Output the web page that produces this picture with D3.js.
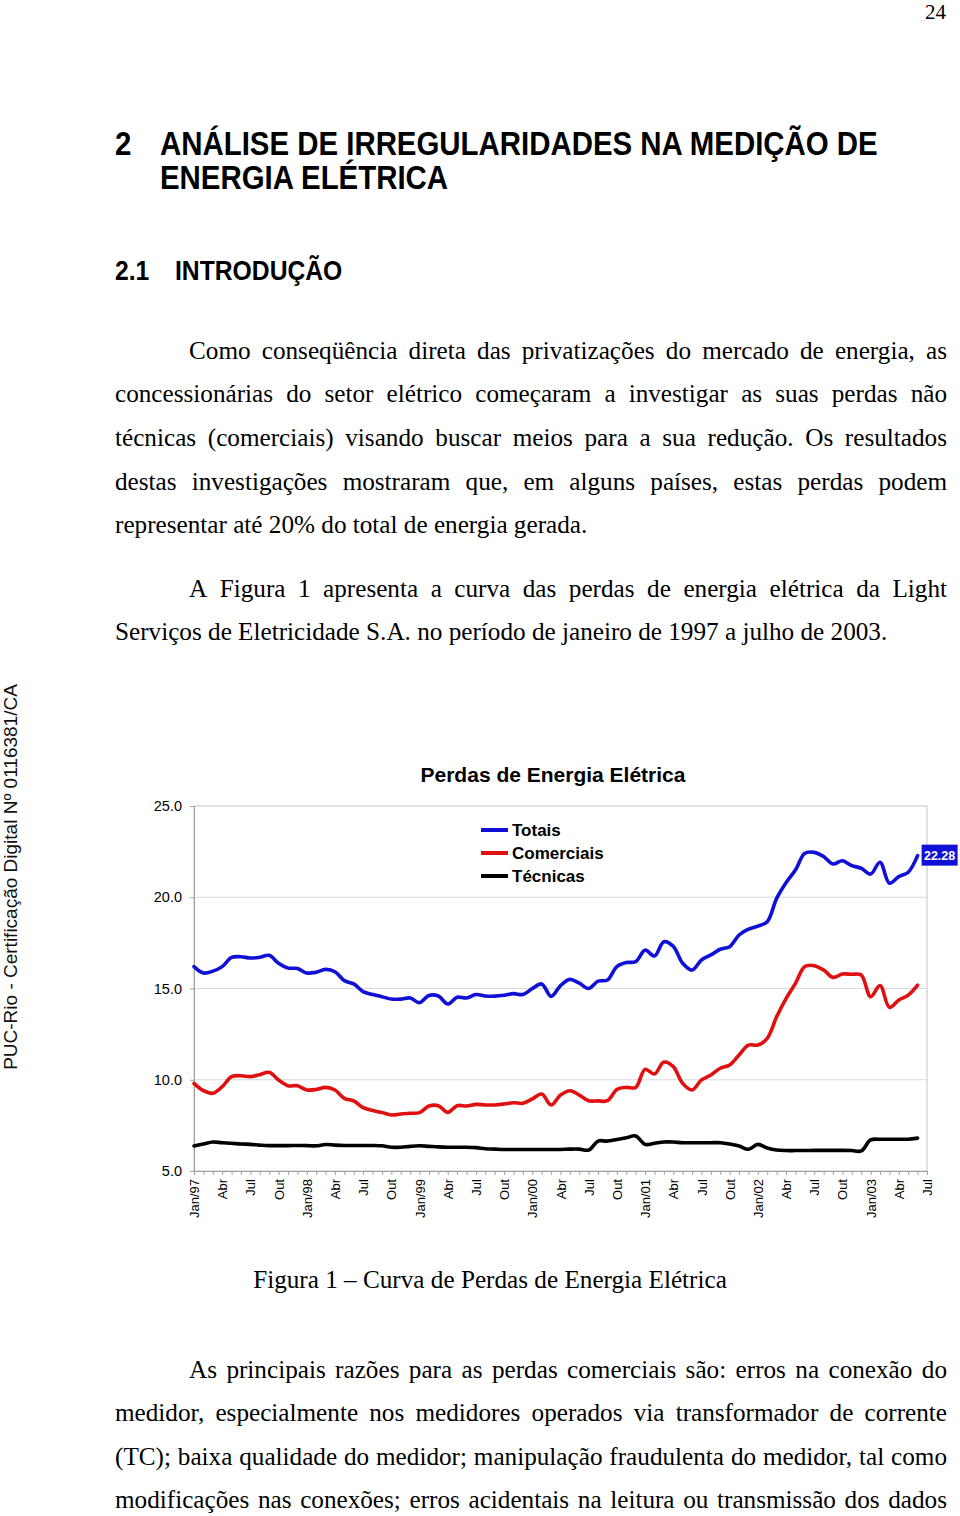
<!DOCTYPE html>
<html>
<head>
<meta charset="utf-8">
<script src="https://cdn.jsdelivr.net/npm/d3@7"></script>
<style>
  html, body { margin: 0; padding: 0; background: #fff; }
  svg { display: block; }
  .serif { font-family: "Liberation Serif", "Times New Roman", serif; }
  .sans { font-family: "Liberation Sans", Arial, sans-serif; }
</style>
</head>
<body>
<div id="page"></div>
<script>
// ---------- data ----------
// monthly losses, Jan/97 .. Jun/03 (%)
const totais = [16.2, 15.85, 15.95, 16.2, 16.7, 16.74, 16.67, 16.71, 16.82, 16.38, 16.12, 16.1,
  15.85, 15.89, 16.05, 15.92, 15.43, 15.25, 14.83, 14.67, 14.55, 14.42, 14.42, 14.48,
  14.22, 14.62, 14.59, 14.15, 14.52, 14.48, 14.67, 14.59, 14.58, 14.63, 14.72, 14.67,
  15.0, 15.25, 14.57, 15.16, 15.5, 15.29, 15.0, 15.4, 15.47, 16.2, 16.42, 16.47,
  17.1, 16.78, 17.56, 17.31, 16.38, 16.01, 16.56, 16.84, 17.15, 17.29, 17.93, 18.25,
  18.42, 18.66, 19.94, 20.8, 21.49, 22.41, 22.46, 22.23, 21.82, 22.0, 21.73, 21.59,
  21.27, 21.92, 20.77, 21.13, 21.37, 22.28];
const comerciais = [9.8, 9.4, 9.26, 9.62, 10.17, 10.22, 10.17, 10.28, 10.41, 9.99, 9.67, 9.67,
  9.44, 9.47, 9.58, 9.44, 8.98, 8.84, 8.47, 8.31, 8.2, 8.07, 8.12, 8.16,
  8.2, 8.56, 8.58, 8.21, 8.58, 8.56, 8.65, 8.62, 8.62, 8.67, 8.74, 8.71,
  8.95, 9.22, 8.62, 9.16, 9.4, 9.16, 8.85, 8.84, 8.85, 9.47, 9.58, 9.58,
  10.57, 10.32, 10.97, 10.72, 9.8, 9.44, 9.99, 10.26, 10.63, 10.81, 11.36, 11.9,
  11.9, 12.27, 13.45, 14.45, 15.28, 16.2, 16.25, 16.01, 15.61, 15.79, 15.78, 15.74,
  14.55, 15.16, 13.97, 14.37, 14.64, 15.19];
const tecnicas = [6.37, 6.48, 6.59, 6.55, 6.52, 6.48, 6.46, 6.42, 6.39, 6.39, 6.39, 6.4,
  6.39, 6.38, 6.45, 6.42, 6.4, 6.4, 6.4, 6.4, 6.38, 6.3, 6.3, 6.35,
  6.38, 6.35, 6.32, 6.3, 6.3, 6.3, 6.28, 6.22, 6.2, 6.18, 6.18, 6.18,
  6.18, 6.18, 6.18, 6.18, 6.2, 6.2, 6.15, 6.64, 6.64, 6.73, 6.82, 6.92,
  6.46, 6.52, 6.59, 6.59, 6.55, 6.55, 6.55, 6.55, 6.55, 6.48, 6.37, 6.19,
  6.46, 6.26, 6.15, 6.12, 6.12, 6.12, 6.13, 6.13, 6.13, 6.13, 6.12, 6.1,
  6.7, 6.74, 6.74, 6.74, 6.74, 6.8];

// one label every 3 months, Jan/97 .. Jul/03
const xLabels = ["Jan/97","Abr","Jul","Out","Jan/98","Abr","Jul","Out","Jan/99","Abr","Jul","Out",
  "Jan/00","Abr","Jul","Out","Jan/01","Abr","Jul","Out","Jan/02","Abr","Jul","Out","Jan/03","Abr","Jul"];
const yTicks = [5, 10, 15, 20, 25];
const seriesNames = ["Totais", "Comerciais", "Técnicas"];
const seriesColors = ["#1010d6", "#e01010", "#000000"];

const W = 960, H = 1516;
const svg = d3.select("#page").append("svg").attr("width", W).attr("height", H);
svg.append("rect").attr("width", W).attr("height", H).attr("fill", "#fff");

// ---------- page text ----------
const LEFT = 115, RIGHT = 947, INDENT = 189;

function textLine(sel, str, x0, x1, y, justify) {
  const t = sel.append("text").attr("class", "serif").attr("y", y)
    .attr("font-size", 25.2).attr("fill", "#000");
  if (!justify) { t.attr("x", x0).text(str); return; }
  const words = str.split(" ");
  const spans = words.map(w => t.append("tspan").text(w));
  const widths = spans.map(s => s.node().getComputedTextLength());
  const gap = (x1 - x0 - d3.sum(widths)) / (words.length - 1);
  let x = x0;
  spans.forEach((s, i) => { s.attr("x", x); x += widths[i] + gap; });
}

// condensed bold heading text
function heading(str, x0, y0, size, sx) {
  svg.append("g").attr("transform", `translate(${x0},${y0}) scale(${sx},1)`)
    .append("text").attr("class", "sans").attr("font-weight", "bold")
    .attr("font-size", size).text(str);
}

svg.append("text").attr("class", "serif").attr("x", 946).attr("y", 19)
  .attr("text-anchor", "end").attr("font-size", 21).text("24");

heading("2", LEFT, 155, 32.5, 0.905);
heading("ANÁLISE DE IRREGULARIDADES NA MEDIÇÃO DE", 160, 155, 32.5, 0.905);
heading("ENERGIA ELÉTRICA", 160, 189, 32.5, 0.905);
heading("2.1", LEFT, 280, 27, 0.915);
heading("INTRODUÇÃO", 175, 280, 27, 0.915);

const body = svg.append("g");
textLine(body, "Como conseqüência direta das privatizações do mercado de energia, as", INDENT, RIGHT, 359, true);
textLine(body, "concessionárias do setor elétrico começaram a investigar as suas perdas não", LEFT, RIGHT, 402, true);
textLine(body, "técnicas (comerciais) visando buscar meios para a sua redução. Os resultados", LEFT, RIGHT, 446, true);
textLine(body, "destas investigações mostraram que, em alguns países, estas perdas podem", LEFT, RIGHT, 490, true);
textLine(body, "representar até 20% do total de energia gerada.", LEFT, RIGHT, 533, false);
textLine(body, "A Figura 1 apresenta a curva das perdas de energia elétrica da Light", INDENT, RIGHT, 597, true);
textLine(body, "Serviços de Eletricidade S.A. no período de janeiro de 1997 a julho de 2003.", LEFT, RIGHT, 640, false);

body.append("text").attr("class", "serif").attr("x", 490).attr("y", 1288)
  .attr("text-anchor", "middle").attr("font-size", 25.2).text("Figura 1 – Curva de Perdas de Energia Elétrica");

textLine(body, "As principais razões para as perdas comerciais são: erros na conexão do", INDENT, RIGHT, 1378, true);
textLine(body, "medidor, especialmente nos medidores operados via transformador de corrente", LEFT, RIGHT, 1421, true);
textLine(body, "(TC); baixa qualidade do medidor; manipulação fraudulenta do medidor, tal como", LEFT, RIGHT, 1465, true);
textLine(body, "modificações nas conexões; erros acidentais na leitura ou transmissão dos dados", LEFT, RIGHT, 1508, true);

svg.append("text").attr("class", "sans")
  .attr("transform", "translate(17,877) rotate(-90)")
  .attr("text-anchor", "middle").attr("font-size", 19).attr("fill", "#111")
  .text("PUC-Rio - Certificação Digital Nº 0116381/CA");

// ---------- chart ----------
const x = d3.scaleLinear().domain([0, 78]).range([194, 927]);
const y = d3.scaleLinear().domain([5, 25]).range([1171, 806]);

const chart = svg.append("g").attr("class", "sans");

chart.append("text").attr("x", 553).attr("y", 782).attr("text-anchor", "middle")
  .attr("font-weight", "bold").attr("font-size", 21).text("Perdas de Energia Elétrica");

// gridlines
chart.append("g").selectAll("line").data(yTicks.slice(1, -1)).join("line")
  .attr("x1", x(0)).attr("x2", x(78)).attr("y1", d => y(d)).attr("y2", d => y(d))
  .attr("stroke", "#d9d9d9").attr("stroke-width", 1);

// plot border
chart.append("rect").attr("x", x(0)).attr("y", y(25))
  .attr("width", x(78) - x(0)).attr("height", y(5) - y(25))
  .attr("fill", "none").attr("stroke", "#c4c4c4").attr("stroke-width", 1);

// y axis
const yAxis = chart.append("g").attr("transform", `translate(${x(0)},0)`)
  .call(d3.axisLeft(y).tickValues(yTicks).tickSize(4).tickPadding(8).tickFormat(d3.format(".1f")));
yAxis.selectAll("path, line").attr("stroke", "#a0a0a0");
yAxis.selectAll("text").attr("font-size", 14.5).attr("font-family", null).attr("fill", "#000");

// x axis: a tick every month, a label every 3 months
const xAxis = chart.append("g").attr("transform", `translate(0,${y(5)})`)
  .call(d3.axisBottom(x).tickValues(d3.range(0, 79)).tickSize(4)
    .tickFormat(d => d % 3 === 0 ? xLabels[d / 3] : ""));
xAxis.selectAll("path, line").attr("stroke", "#a0a0a0");
xAxis.selectAll("text")
  .attr("font-size", 13).attr("font-family", null).attr("fill", "#000")
  .attr("text-anchor", "end")
  .attr("transform", "rotate(-90)")
  .attr("x", -8).attr("y", 0).attr("dy", "0.35em");

// lines
const line = d3.line().x((d, i) => x(i)).y(d => y(d)).curve(d3.curveCatmullRom);
const series = [totais, comerciais, tecnicas];
chart.append("g").selectAll("path").data(series).join("path")
  .attr("d", line)
  .attr("fill", "none")
  .attr("stroke", (d, i) => seriesColors[i])
  .attr("stroke-width", 3.6)
  .attr("stroke-linejoin", "round")
  .attr("stroke-linecap", "round");

// legend
const legend = chart.append("g").selectAll("g").data(seriesNames).join("g")
  .attr("transform", (d, i) => `translate(481,${830 + i * 23})`);
legend.append("line").attr("x1", 0).attr("x2", 27)
  .attr("stroke", (d, i) => seriesColors[i]).attr("stroke-width", 4);
legend.append("text").attr("x", 31).attr("dy", "0.36em")
  .attr("font-weight", "bold").attr("font-size", 17).text(d => d);

// last value label
const lastI = totais.length - 1;
const lbl = chart.append("g").attr("transform", `translate(${x(lastI) + 22},${y(totais[lastI])})`);
lbl.append("rect").attr("x", -18).attr("y", -11).attr("width", 36).attr("height", 21).attr("fill", "#1010d6");
lbl.append("text").attr("text-anchor", "middle").attr("dy", "0.36em")
  .attr("font-weight", "bold").attr("font-size", 12.5).attr("fill", "#fff")
  .text(d3.format(".2f")(totais[lastI]));
</script>
</body>
</html>
